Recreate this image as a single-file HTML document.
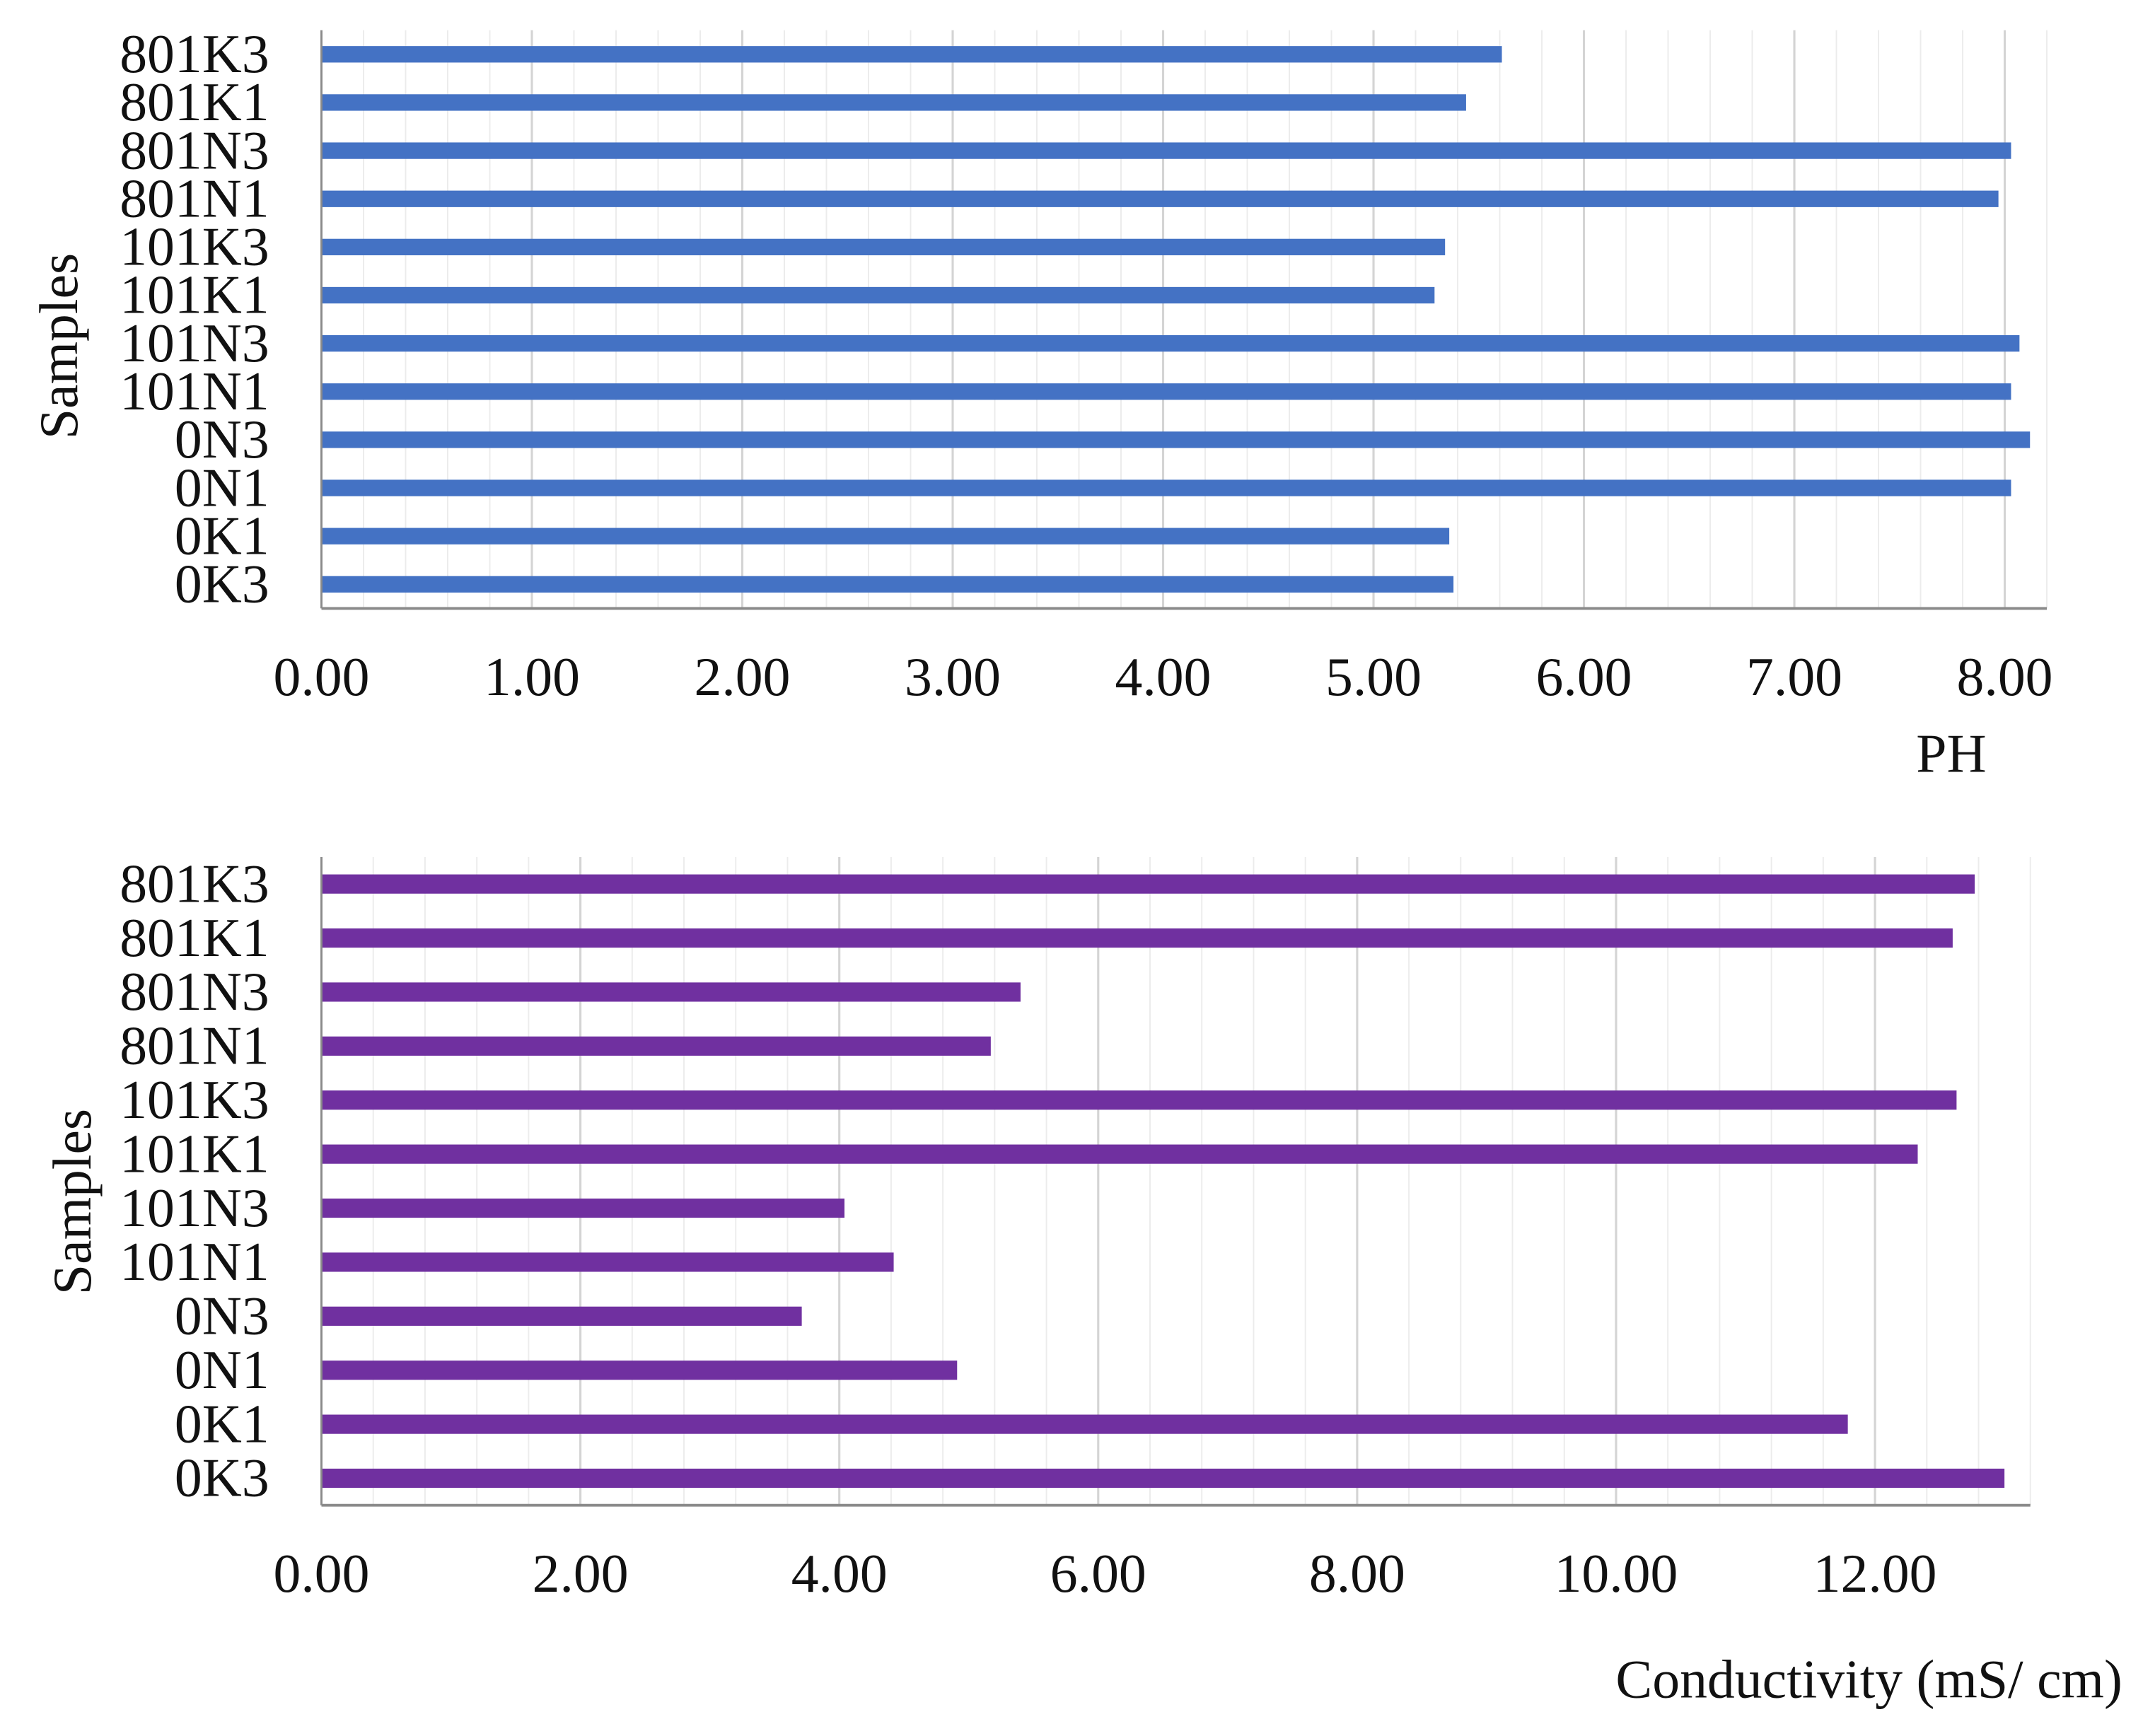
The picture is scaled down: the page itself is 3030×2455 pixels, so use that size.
<!DOCTYPE html>
<html><head><meta charset="utf-8"><style>
html,body{margin:0;padding:0;background:#fff;}
svg{display:block;}
text{font-family:"Liberation Serif",serif;fill:#111;}
</style></head><body>
<svg id="chart" width="3030" height="2455" viewBox="0 0 1560 1264" preserveAspectRatio="none" xmlns="http://www.w3.org/2000/svg"></svg>
<script>
const categories = ["801K3","801K1","801N3","801N1","101K3","101K1","101N3","101N1","0N3","0N1","0K1","0K3"];
const phValues = [5.61,5.44,8.03,7.97,5.34,5.29,8.07,8.03,8.12,8.03,5.36,5.38];
const condValues = [12.77,12.60,5.40,5.17,12.63,12.33,4.04,4.42,3.71,4.91,11.79,13.00];
const phTicks = ["0.00","1.00","2.00","3.00","4.00","5.00","6.00","7.00","8.00"];
const condTicks = ["0.00","2.00","4.00","6.00","8.00","10.00","12.00"];

const svg = document.getElementById('chart');
const NS = 'http://www.w3.org/2000/svg';
function mk(tag, attrs, parent){ const e=document.createElementNS(NS,tag); for(const k in attrs) e.setAttribute(k,attrs[k]); (parent||svg).appendChild(e); return e; }

function drawChart(cfg){
  const g = mk('g',{});
  
  
  const x = v => cfg.left + (v - 0) / cfg.max * (cfg.right - cfg.left);
  const n = categories.length;
  const step = (cfg.bottom - cfg.top) / n;
  const y = i => cfg.top + step * (i + 0.5);
  // minor gridlines
  for (let v = cfg.minor; v <= cfg.max + 1e-9; v += cfg.minor) {
    const isMajor = Math.abs(v/cfg.major - Math.round(v/cfg.major)) < 1e-6;
    const l = mk('line',{x1:x(v),x2:x(v),y1:cfg.top,y2:cfg.bottom,stroke:isMajor?'#d4d4d4':'#ececec','stroke-width':isMajor?1.6:1},g);
    
    
  }
  // bars
  cfg.values.forEach((v,i)=>{
    const r = mk('rect',{x:cfg.left,y:y(i)-cfg.barH/2,width:x(v)-cfg.left,height:cfg.barH,fill:cfg.color},g);
    
    
    const t = mk('text',{x:cfg.left-38,y:y(i)+13,'font-size':40,'text-anchor':'end'},g);
    t.textContent = categories[i];
    
    
  });
  // axes
  const ya = mk('line',{x1:cfg.left,x2:cfg.left,y1:cfg.top,y2:cfg.bottom,stroke:'#8a8a8a','stroke-width':1.5},g);
  
  
  const xa = mk('line',{x1:cfg.left,x2:cfg.right,y1:cfg.bottom,y2:cfg.bottom,stroke:'#8a8a8a','stroke-width':2},g);
  
  
  cfg.ticks.forEach(s=>{
    const t = mk('text',{x:x(parseFloat(s)),y:cfg.tickY,'font-size':40,'text-anchor':'middle'},g);
    t.textContent = s;
    
    
  });
  const xt = mk('text',{x:cfg.xTitleX,y:cfg.xTitleY,'font-size':40,'text-anchor':'end'},g);
  xt.textContent = cfg.xTitle;
  
  
  const yt = mk('text',{x:0,y:0,'font-size':40,'text-anchor':'middle',transform:'translate('+cfg.yTitleX+','+cfg.yTitleY+') rotate(-90)'},g);
  yt.textContent = 'Samples';
  
  
}

drawChart({name:'ph-chart',left:234,right:1490,top:22,bottom:443,max:8.2,minor:0.2,major:1,
  values:phValues,ticks:phTicks,color:'#4472C4',barH:12,tickY:506,
  xTitle:'PH',xTitleX:1446,xTitleY:562,yTitleX:56,yTitleY:252});
drawChart({name:'conductivity-chart',left:234,right:1478,top:624,bottom:1096,max:13.2,minor:0.4,major:2,
  values:condValues,ticks:condTicks,color:'#7030A0',barH:14,tickY:1159,
  xTitle:'Conductivity (mS/ cm)',xTitleX:1545,xTitleY:1236,yTitleX:66,yTitleY:875});
</script>
</body></html>
